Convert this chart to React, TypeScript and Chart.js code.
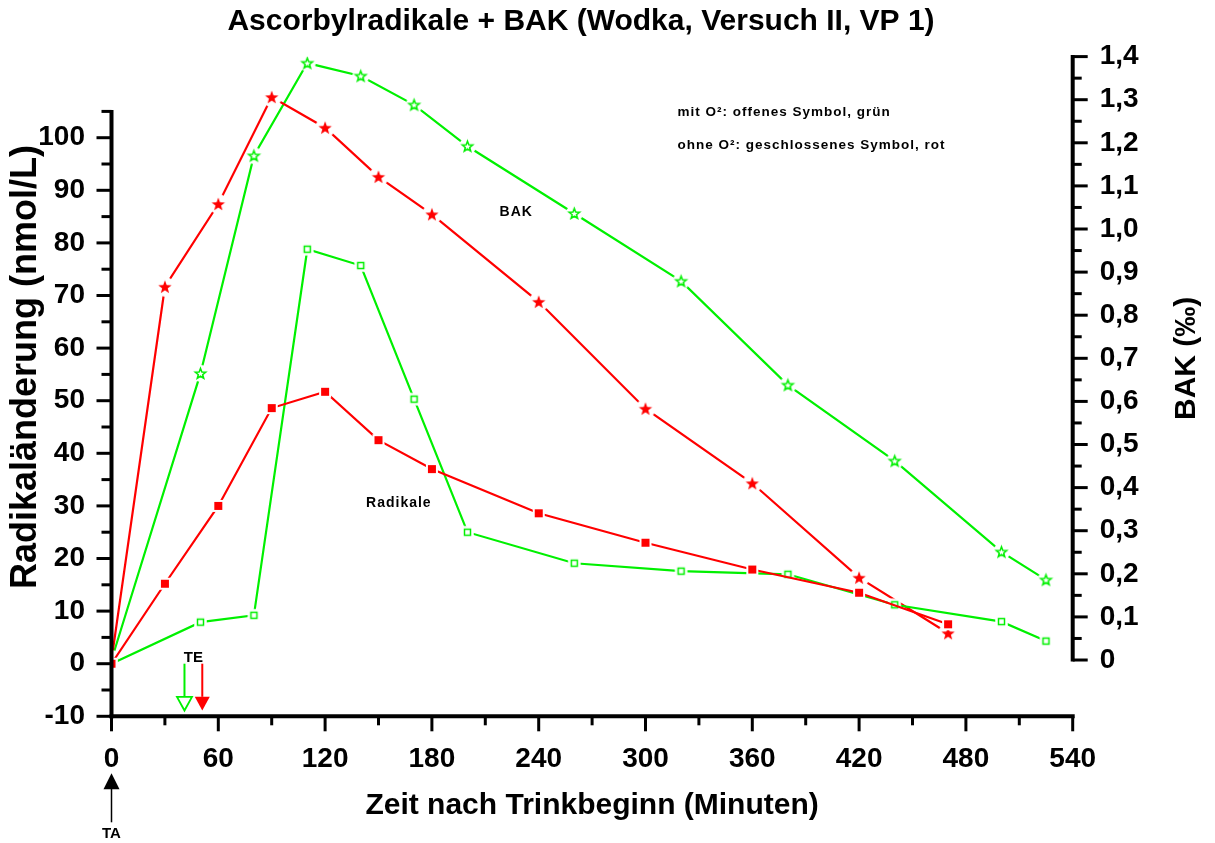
import React, { useEffect, useRef } from 'react';
import { Chart, registerables } from 'chart.js';

Chart.register(...registerables);

// ---------- data ----------
const timesO2 = [0, 50, 80, 110, 140, 170, 200, 260, 320, 380, 440, 500, 525];
const timesNoO2 = [0, 30, 60, 90, 120, 150, 180, 240, 300, 360, 420, 470];

const radikaleO2 = [0, 7.9, 9.2, 78.8, 75.7, 50.3, 25.0, 19.1, 17.6, 17.0, 11.2, 8.0, 4.3];
const radikaleNoO2 = [0, 15.2, 30.0, 48.6, 51.7, 42.5, 37.0, 28.6, 23.0, 17.9, 13.5, 7.5];

const bakO2 = [0, 0.665, 1.17, 1.385, 1.355, 1.288, 1.192, 1.036, 0.879, 0.638, 0.462, 0.251, 0.186];
const bakNoO2 = [0, 0.866, 1.058, 1.306, 1.235, 1.121, 1.034, 0.831, 0.583, 0.41, 0.191, 0.062];

const xTicks = [0, 60, 120, 180, 240, 300, 360, 420, 480, 540];
const radTicks = [-10, 0, 10, 20, 30, 40, 50, 60, 70, 80, 90, 100];
const radAxisTop = 105;
const bakTicks = [0, 0.1, 0.2, 0.3, 0.4, 0.5, 0.6, 0.7, 0.8, 0.9, 1.0, 1.1, 1.2, 1.3, 1.4];
const bakTickLabels = ['0', '0,1', '0,2', '0,3', '0,4', '0,5', '0,6', '0,7', '0,8', '0,9', '1,0', '1,1', '1,2', '1,3', '1,4'];

const teTimes = [41, 51];

const TITLE = 'Ascorbylradikale + BAK (Wodka, Versuch II, VP 1)';
const X_TITLE = 'Zeit nach Trinkbeginn (Minuten)';
const Y_TITLE = 'Radikaländerung (nmol/L)';
const Y2_TITLE = 'BAK (‰)';
const NOTE1 = 'mit O²: offenes Symbol, grün';
const NOTE2 = 'ohne O²: geschlossenes Symbol, rot';

const GREEN = '#00f000';
const RED = '#ff0000';
const FONT = '"Liberation Sans", Arial, sans-serif';

// ---------- marker images ----------
function makeCanvas(w: number, h: number) {
  const c = document.createElement('canvas');
  c.width = w;
  c.height = h;
  return c;
}

function makeStar(color: string, R: number, filled: boolean, halo: number) {
  const s = Math.ceil(2 * (R + halo)) + 2;
  const c = makeCanvas(s, s);
  const ctx = c.getContext('2d')!;
  const cx = s / 2;
  const cy = s / 2 + R * 0.08;
  ctx.fillStyle = '#fff';
  ctx.beginPath();
  ctx.arc(s / 2, s / 2, R + halo, 0, Math.PI * 2);
  ctx.fill();
  ctx.beginPath();
  for (let i = 0; i < 10; i++) {
    const a = -Math.PI / 2 + (i * Math.PI) / 5;
    const rr = i % 2 === 0 ? R : R * 0.42;
    const px = cx + rr * Math.cos(a);
    const py = cy + rr * Math.sin(a);
    if (i === 0) ctx.moveTo(px, py);
    else ctx.lineTo(px, py);
  }
  ctx.closePath();
  if (filled) {
    ctx.fillStyle = color;
    ctx.fill();
  } else {
    ctx.strokeStyle = color;
    ctx.lineWidth = 1.5;
    ctx.lineJoin = 'miter';
    ctx.stroke();
  }
  return c;
}

function makeSquare(color: string, side: number, filled: boolean, halo: number) {
  const s = Math.ceil(side + 2 * halo) + 2;
  const c = makeCanvas(s, s);
  const ctx = c.getContext('2d')!;
  ctx.fillStyle = '#fff';
  const hs = side / 2 + halo;
  ctx.fillRect(s / 2 - hs, s / 2 - hs, 2 * hs, 2 * hs);
  if (filled) {
    ctx.fillStyle = color;
    ctx.fillRect(s / 2 - side / 2, s / 2 - side / 2, side, side);
  } else {
    ctx.strokeStyle = color;
    ctx.lineWidth = 1.5;
    ctx.strokeRect(s / 2 - side / 2 + 0.75, s / 2 - side / 2 + 0.75, side - 1.5, side - 1.5);
  }
  return c;
}

// ---------- custom drawing plugin ----------
const decorPlugin = {
  id: 'decor',
  afterDatasetsDraw(chart: any) {
    const ctx: CanvasRenderingContext2D = chart.ctx;
    const xs = chart.scales.x;
    const yl = chart.scales.yRad;
    const yr = chart.scales.yBak;
    const x0 = xs.getPixelForValue(xTicks[0]);
    const xEnd = xs.getPixelForValue(xTicks[xTicks.length - 1]);
    const yBottom = yl.getPixelForValue(radTicks[0]);
    const yTopL = yl.getPixelForValue(radAxisTop);
    const yr0 = yr.getPixelForValue(bakTicks[0]);
    const yrTop = yr.getPixelForValue(bakTicks[bakTicks.length - 1]);

    ctx.save();
    ctx.strokeStyle = '#000';
    ctx.fillStyle = '#000';
    ctx.lineCap = 'butt';

    const seg = (ax: number, ay: number, bx: number, by: number, w: number) => {
      ctx.lineWidth = w;
      ctx.beginPath();
      ctx.moveTo(ax, ay);
      ctx.lineTo(bx, by);
      ctx.stroke();
    };

    // left axis
    seg(x0, yBottom + 2, x0, yTopL - 1.5, 4);
    const radStep = radTicks[1] - radTicks[0];
    for (let i = 0; i < radTicks.length; i++) {
      const py = yl.getPixelForValue(radTicks[i]);
      seg(x0 - 15, py, x0, py, 3);
      const mv = radTicks[i] + radStep / 2;
      if (mv <= radAxisTop) {
        const my = yl.getPixelForValue(mv);
        seg(x0 - 10, my, x0, my, 3);
      }
    }

    // bottom axis
    seg(x0 - 2, yBottom, xEnd + 2, yBottom, 4);
    const xStep = xTicks[1] - xTicks[0];
    for (let i = 0; i < xTicks.length; i++) {
      const px = xs.getPixelForValue(xTicks[i]);
      seg(px, yBottom, px, yBottom + 15, 3);
      if (i < xTicks.length - 1) {
        const mx = xs.getPixelForValue(xTicks[i] + xStep / 2);
        seg(mx, yBottom, mx, yBottom + 9, 3);
      }
    }

    // right axis
    seg(xEnd, yr0 + 1.5, xEnd, yrTop - 1.5, 4);
    for (let i = 0; i < bakTicks.length; i++) {
      const py = yr.getPixelForValue(bakTicks[i]);
      seg(xEnd, py, xEnd + 15, py, 3);
      if (i < bakTicks.length - 1) {
        const my = yr.getPixelForValue((bakTicks[i] + bakTicks[i + 1]) / 2);
        seg(xEnd, my, xEnd + 9, my, 3);
      }
    }

    // TE arrows
    const teColors = [GREEN, RED];
    const teFilled = [false, true];
    teTimes.forEach((t, i) => {
      const px = xs.getPixelForValue(t);
      const yStart = yl.getPixelForValue(0);
      const yBase = yl.getPixelForValue(-6.3);
      const yTip = yl.getPixelForValue(-8.9);
      ctx.strokeStyle = teColors[i];
      ctx.fillStyle = teColors[i];
      seg(px, yStart, px, yBase, 2);
      ctx.beginPath();
      ctx.moveTo(px - 7.5, yBase);
      ctx.lineTo(px + 7.5, yBase);
      ctx.lineTo(px, yTip);
      ctx.closePath();
      if (teFilled[i]) ctx.fill();
      else {
        ctx.lineWidth = 1.8;
        ctx.stroke();
      }
    });
    ctx.fillStyle = '#000';
    ctx.strokeStyle = '#000';
    ctx.font = `bold 15px ${FONT}`;
    ctx.textAlign = 'center';
    ctx.textBaseline = 'middle';
    const teX = (xs.getPixelForValue(teTimes[0]) + xs.getPixelForValue(teTimes[1])) / 2;
    ctx.fillText('TE', teX, yl.getPixelForValue(0) - 6);

    // TA arrow below axis
    ctx.beginPath();
    ctx.moveTo(x0, yBottom + 57);
    ctx.lineTo(x0 + 8, yBottom + 73);
    ctx.lineTo(x0 - 8, yBottom + 73);
    ctx.closePath();
    ctx.fill();
    seg(x0, yBottom + 72, x0, yBottom + 106, 1.5);
    ctx.fillText('TA', x0, yBottom + 118);

    // annotations
    (ctx as any).letterSpacing = '1px';
    ctx.textAlign = 'left';
    ctx.font = `bold 13.5px ${FONT}`;
    ctx.fillText(NOTE1, xs.getPixelForValue(318), yl.getPixelForValue(104.9));
    ctx.fillText(NOTE2, xs.getPixelForValue(318), yl.getPixelForValue(98.6));
    ctx.font = `bold 14px ${FONT}`;
    ctx.fillText('BAK', xs.getPixelForValue(218), yl.getPixelForValue(85.9));
    ctx.fillText('Radikale', xs.getPixelForValue(143), yl.getPixelForValue(30.5));
    (ctx as any).letterSpacing = '0px';

    // titles
    ctx.textAlign = 'center';
    ctx.font = `bold 30px ${FONT}`;
    ctx.fillText(TITLE, 581, 22);
    ctx.fillText(X_TITLE, (x0 + xEnd) / 2, yBottom + 89);

    ctx.save();
    ctx.translate(26, 367);
    ctx.rotate(-Math.PI / 2);
    ctx.font = `bold 36px ${FONT}`;
    ctx.fillText(Y_TITLE, 0, 0);
    ctx.restore();

    ctx.save();
    ctx.translate(1187, (yr0 + yrTop) / 2);
    ctx.rotate(-Math.PI / 2);
    ctx.font = `bold 30px ${FONT}`;
    ctx.fillText(Y2_TITLE, 0, 0);
    ctx.restore();

    ctx.restore();
  },
};

export default function App() {
  const ref = useRef<HTMLCanvasElement | null>(null);

  useEffect(() => {
    if (!ref.current) return;
    const greenStar = makeStar(GREEN, 5.5, false, 3);
    const redStar = makeStar(RED, 7, true, 3);
    const greenSquare = makeSquare(GREEN, 7.5, false, 2.5);
    const redSquare = makeSquare(RED, 8, true, 2);

    const tickFont = { family: FONT, size: 28, weight: 'bold' as const };

    const chart = new Chart(ref.current, {
      type: 'line',
      data: {
        datasets: [
          {
            label: 'Radikale ohne O2',
            data: timesNoO2.map((t, i) => ({ x: t, y: radikaleNoO2[i] })),
            yAxisID: 'yRad',
            borderColor: RED,
            borderWidth: 2.2,
            pointStyle: redSquare as any,
            pointRadius: 5,
            fill: false,
            tension: 0,
          },
          {
            label: 'Radikale mit O2',
            data: timesO2.map((t, i) => ({ x: t, y: radikaleO2[i] })),
            yAxisID: 'yRad',
            borderColor: GREEN,
            borderWidth: 2.2,
            pointStyle: greenSquare as any,
            pointRadius: 5,
            fill: false,
            tension: 0,
          },
          {
            label: 'BAK ohne O2',
            data: timesNoO2.map((t, i) => ({ x: t, y: bakNoO2[i] })),
            yAxisID: 'yBak',
            borderColor: RED,
            borderWidth: 2.2,
            pointStyle: redStar as any,
            pointRadius: 5,
            fill: false,
            tension: 0,
          },
          {
            label: 'BAK mit O2',
            data: timesO2.map((t, i) => ({ x: t, y: bakO2[i] })),
            yAxisID: 'yBak',
            borderColor: GREEN,
            borderWidth: 2.2,
            pointStyle: greenStar as any,
            pointRadius: 5,
            fill: false,
            tension: 0,
          },
        ],
      },
      options: {
        responsive: false,
        animation: false,
        events: [],
        layout: { padding: { top: 56.6, left: 0, right: 0, bottom: 0 } },
        plugins: {
          legend: { display: false },
          tooltip: { enabled: false },
          title: { display: false },
        },
        scales: {
          x: {
            type: 'linear',
            min: 0,
            max: 540,
            grid: { display: false, drawTicks: false, tickLength: 0 },
            border: { display: false },
            afterBuildTicks: (s: any) => {
              s.ticks = xTicks.map((v) => ({ value: v }));
            },
            afterFit: (s: any) => {
              s.height = 843 - 716.3;
            },
            ticks: {
              autoSkip: false,
              maxRotation: 0,
              padding: 26,
              color: '#000',
              font: tickFont,
              callback: (v: any) => String(v),
            },
          },
          yRad: {
            type: 'linear',
            position: 'left',
            min: -10,
            max: 115.42,
            grid: { display: false, drawTicks: false, tickLength: 0 },
            border: { display: false },
            afterBuildTicks: (s: any) => {
              s.ticks = radTicks.map((v) => ({ value: v }));
            },
            afterFit: (s: any) => {
              s.width = 111.5;
            },
            ticks: {
              autoSkip: false,
              padding: 26.5,
              color: '#000',
              font: tickFont,
              callback: (v: any) => String(v),
            },
          },
          yBak: {
            type: 'linear',
            position: 'right',
            min: -0.1306,
            max: 1.4,
            grid: { display: false, drawTicks: false, tickLength: 0 },
            border: { display: false },
            afterBuildTicks: (s: any) => {
              s.ticks = bakTicks.map((v) => ({ value: v }));
            },
            afterFit: (s: any) => {
              s.width = 1215 - 1072.7;
            },
            ticks: {
              autoSkip: false,
              padding: 27,
              color: '#000',
              font: tickFont,
              callback: (_v: any, i: number) => bakTickLabels[i],
            },
          },
        },
      } as any,
      plugins: [decorPlugin],
    });
    return () => chart.destroy();
  }, []);

  return (
    <div style={{ position: 'absolute', left: 0, top: 0, width: 1215, height: 843, background: '#fff' }}>
      <canvas ref={ref} width={1215} height={843} style={{ display: 'block' }} />
    </div>
  );
}
